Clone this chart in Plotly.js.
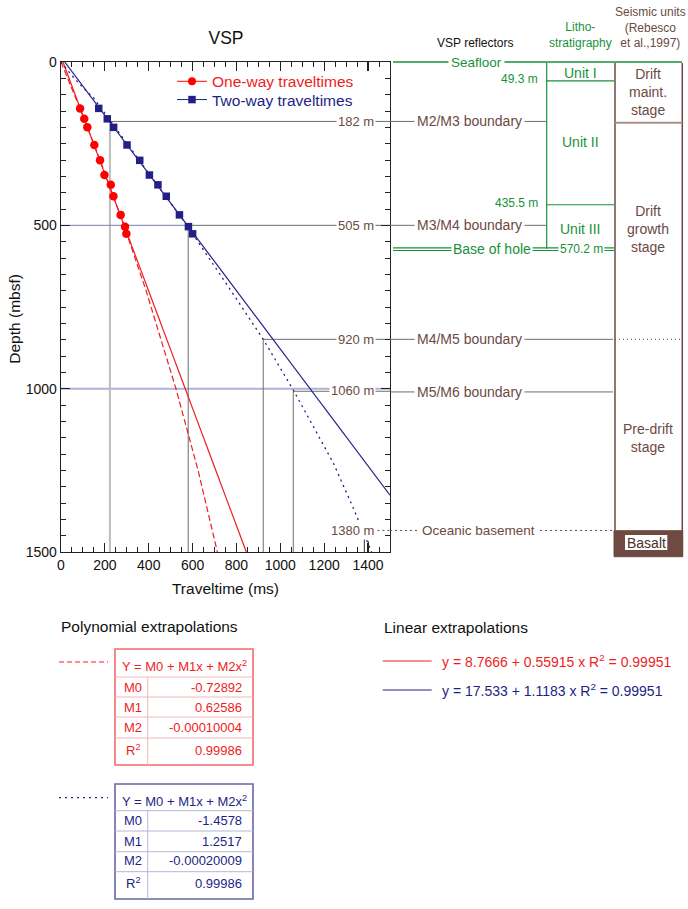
<!DOCTYPE html>
<html><head><meta charset="utf-8">
<script src="https://cdn.plot.ly/plotly-3.0.1.min.js"></script>
<style>html,body{margin:0;padding:0;background:#fff}#chart{width:688px;height:909px}</style>
</head><body><div id="chart"></div>
<script>
// ---------------- data ----------------
const oneWayTime  = [87, 106, 120, 152, 178, 198, 227, 239, 272, 292, 298];
const oneWayDepth = [142, 174, 200, 254, 301, 346, 376, 411, 468, 504, 526];
const twoWayTime  = [172, 211, 240, 301, 359, 403, 442, 480, 540, 581, 600];
const twoWayDepth = [142, 174, 200, 254, 301, 346, 376, 411, 468, 504, 526];

// linear extrapolations (end points)
const linOneTime  = [9, 845];
const linOneDepth = [0, 1500];
const linTwoTime  = [17, 1500];
const linTwoDepth = [0, 1326];

// polynomial extrapolations
const polyOneTime  = [0, 91, 178, 287, 388, 524, 625, 713];
const polyOneDepth = [0, 150, 300, 500, 700, 1000, 1250, 1500];
const polyTwoTime  = [0, 48, 92, 150, 356, 574, 783, 922, 1059, 1242, 1333, 1356, 1409, 1416];
const polyTwoDepth = [0, 40, 73, 111, 300, 500, 708, 849, 1004, 1228, 1366, 1402, 1489, 1500];

// reflector picks inside the plot
const reflLabels     = ['182 m', '505 m', '920 m', '1060 m', '1380 m'];
const reflLabelDepth = [182, 500, 849, 1006, 1434];
const reflTime       = [222, 580, 922, 1059, 1383];
const reflDepth      = [182, 500, 849, 1008, 1457];
const extraVTime = [223, 1401];
const extraVDepth = [182, 1467];

// right-hand columns
const panelRefl      = ['M2/M3 boundary', 'M3/M4 boundary', 'M4/M5 boundary', 'M5/M6 boundary', 'Oceanic basement'];
const panelReflDepth = [182, 500, 849, 1010, 1434];
const lithoUnits      = ['Unit I', 'Unit II', 'Unit III'];
const lithoUnitDepth  = [33, 244, 511];
const lithoBounds     = ['49.3 m', '435.5 m'];
const lithoBoundDepth = [58, 437];
const holeBaseLabel = '570.2 m';
const holeBaseDepth = 572;
const seismicUnits     = ['Drift<br>maint.<br>stage', 'Drift<br>growth<br>stage', 'Pre-drift<br>stage'];
const seismicUnitDepth = [91, 511, 1150];
const seismicBoundDepth = 186;

// tables
const polyRows    = ['M0', 'M1', 'M2', 'R<sup>2</sup>'];
const polyOneVals = ['-0.72892', '0.62586', '-0.00010004', '0.99986'];
const polyTwoVals = ['-1.4578', '1.2517', '-0.00020009', '0.99986'];
const polyEq  = 'Y = M0 + M1x + M2x<sup>2</sup>';
const linOneEq = 'y = 8.7666 + 0.55915 x R<sup>2</sup> = 0.99951';
const linTwoEq = 'y = 17.533 + 1.1183 x R<sup>2</sup> = 0.99951';

// ---------------- styling ----------------
const RED = '#ee1d23', NAVY = '#231f86', BROWN = '#6b4a43', GREEN = '#17923a', GRAY = '#6e6e6e';
const FONT = 'Liberation Sans, Arial, Helvetica, sans-serif';
const PL = 61, PR = 390, PT = 62, PB = 552;
const X = px => (px - PL) / (PR - PL);
const Y = py => (PB - py) / (PB - PT);

const traces = [
  {x: linOneTime, y: linOneDepth, mode: 'lines', line: {color: RED, width: 1.2}, showlegend: false, hoverinfo: 'skip'},
  {x: linTwoTime, y: linTwoDepth, mode: 'lines', line: {color: NAVY, width: 1.2}, showlegend: false, hoverinfo: 'skip'},
  {x: polyOneTime, y: polyOneDepth, mode: 'lines', line: {color: RED, width: 1.2, dash: '6px,3px'}, showlegend: false, hoverinfo: 'skip'},
  {x: polyTwoTime, y: polyTwoDepth, mode: 'lines', line: {color: NAVY, width: 1.3, dash: '2px,4px'}, showlegend: false, hoverinfo: 'skip'},
  {x: oneWayTime, y: oneWayDepth, mode: 'markers', marker: {symbol: 'circle', size: 8.5, color: 'red'}, showlegend: false},
  {x: twoWayTime, y: twoWayDepth, mode: 'markers', marker: {symbol: 'square', size: 7.5, color: NAVY}, showlegend: false},
  {x: [null], y: [null], mode: 'lines+markers', name: 'One-way traveltimes', legend: 'legend',
   line: {color: 'red', width: 1}, marker: {symbol: 'circle', size: 8, color: 'red'}},
  {x: [null], y: [null], mode: 'lines+markers', name: 'Two-way traveltimes', legend: 'legend2',
   line: {color: NAVY, width: 1}, marker: {symbol: 'square', size: 7.5, color: NAVY}}
];

const shapes = [];
const ann = [];
const L = (o) => shapes.push(Object.assign({type: 'line'}, o));
const A = (o) => ann.push(Object.assign({showarrow: false, xanchor: 'center', yanchor: 'middle',
  font: {family: FONT, size: 14, color: BROWN}}, o));

// ---- inside plot ----
L({xref: 'x', yref: 'y', x0: 0, x1: 1500, y0: 1000, y1: 1000, line: {color: '#b0b2d8', width: 2}, layer: 'below'});
L({xref: 'x', yref: 'y', x0: extraVTime[0], x1: extraVTime[0], y0: extraVDepth[0], y1: 1500, line: {color: '#bdbdbd', width: 2}, layer: 'below'});
L({xref: 'x', yref: 'y', x0: 0, x1: reflTime[1], y0: reflDepth[1], y1: reflDepth[1], line: {color: '#7d7db8', width: 1}, layer: 'below'});
for (let i = 0; i < 4; i++) {
  L({xref: 'x', yref: 'y', x0: reflTime[i], x1: 1500, y0: reflDepth[i], y1: reflDepth[i], line: {color: GRAY, width: 1}, layer: 'below'});
  if (i > 0) L({xref: 'x', yref: 'y', x0: reflTime[i], x1: reflTime[i], y0: reflDepth[i], y1: 1500, line: {color: GRAY, width: 1}, layer: 'below'});
}
L({xref: 'x', yref: 'y', x0: reflTime[4], x1: reflTime[4], y0: reflDepth[4], y1: 1500, line: {color: '#333', width: 1}, layer: 'below'});
L({xref: 'x', yref: 'y', x0: extraVTime[1], x1: extraVTime[1], y0: extraVDepth[1], y1: 1500, line: {color: '#111', width: 1}, layer: 'below'});
L({xref: 'x', yref: 'y', x0: 1420, x1: 1500, y0: reflLabelDepth[4], y1: reflLabelDepth[4], line: {color: '#555', width: 1, dash: '2px,3px'}, layer: 'below'});
reflLabels.forEach((t, i) => A({xref: 'x', yref: 'y', x: 1436, xanchor: 'right', y: reflLabelDepth[i], text: t,
  bgcolor: 'white', borderpad: 1, font: {family: FONT, size: 13, color: BROWN}}));

// ---- right panel ----
[0, 1].forEach(i => L({xref: 'paper', yref: 'y', x0: 1, x1: X(546), y0: panelReflDepth[i], y1: panelReflDepth[i], line: {color: GRAY, width: 1}}));
[2, 3].forEach(i => L({xref: 'paper', yref: 'y', x0: 1, x1: X(613), y0: panelReflDepth[i], y1: panelReflDepth[i], line: {color: GRAY, width: 1}}));
L({xref: 'paper', yref: 'y', x0: 1, x1: X(613), y0: panelReflDepth[4], y1: panelReflDepth[4], line: {color: '#555', width: 1, dash: '2px,3px'}});
L({xref: 'paper', yref: 'y', x0: X(615), x1: X(682), y0: panelReflDepth[2], y1: panelReflDepth[2], line: {color: '#555', width: 1, dash: '1px,3px'}});
panelRefl.forEach((t, i) => A({xref: 'paper', yref: 'y', x: X(i === 4 ? 479 : 469.3), y: panelReflDepth[i], text: t,
  bgcolor: 'white', borderpad: 2, font: {family: FONT, size: i === 4 ? 13.5 : 14, color: BROWN}}));

// seafloor
L({xref: 'paper', yref: 'paper', x0: X(393), x1: X(682), y0: 1, y1: 1, line: {color: GREEN, width: 1.3}});
A({xref: 'paper', yref: 'paper', x: X(476.7), y: 1, text: 'Seafloor', bgcolor: 'white', borderpad: 2,
   font: {family: FONT, size: 13.5, color: GREEN}});
// lithostratigraphy column
L({xref: 'paper', yref: 'y', x0: X(546.7), x1: X(546.7), y0: 2, y1: holeBaseDepth, line: {color: GREEN, width: 1.2}});
lithoBoundDepth.forEach((d, i) => {
  L({xref: 'paper', yref: 'y', x0: X(546.7), x1: X(614), y0: d, y1: d, line: {color: GREEN, width: 1.2}});
  A({xref: 'paper', yref: 'y', x: X(540), xanchor: 'right', y: d - 5, text: lithoBounds[i], font: {family: FONT, size: 12, color: GREEN}});
});
lithoUnits.forEach((t, i) => A({xref: 'paper', yref: 'y', x: X(580), y: lithoUnitDepth[i], text: t, font: {family: FONT, size: 14, color: GREEN}}));
[holeBaseDepth - 3, holeBaseDepth + 5].forEach(d =>
  L({xref: 'paper', yref: 'y', x0: X(393), x1: X(614), y0: d, y1: d, line: {color: GREEN, width: 1.2}}));
A({xref: 'paper', yref: 'y', x: X(491.7), y: holeBaseDepth + 1, text: 'Base of hole', bgcolor: 'white', borderpad: 1,
   font: {family: FONT, size: 14, color: GREEN}});
A({xref: 'paper', yref: 'y', x: X(581.7), y: holeBaseDepth + 1, text: holeBaseLabel, bgcolor: 'white', borderpad: 1,
   font: {family: FONT, size: 12, color: GREEN}});
// seismic units column
L({xref: 'paper', yref: 'paper', x0: X(615), x1: X(615), y0: Y(63), y1: Y(556.7), line: {color: BROWN, width: 1.5}});
L({xref: 'paper', yref: 'paper', x0: X(682.3), x1: X(682.3), y0: Y(63), y1: Y(556.7), line: {color: BROWN, width: 1.5}});
L({xref: 'paper', yref: 'y', x0: X(615), x1: X(682.3), y0: seismicBoundDepth, y1: seismicBoundDepth, line: {color: '#a8908a', width: 2}});
seismicUnits.forEach((t, i) => A({xref: 'paper', yref: 'y', x: X(647.5), y: seismicUnitDepth[i], text: t, font: {family: FONT, size: 14, color: BROWN}}));
shapes.push({type: 'rect', xref: 'paper', yref: 'paper', x0: X(614), x1: X(682.7), y0: Y(530.7), y1: Y(556.7),
  fillcolor: '#6e4a42', line: {color: '#6e4a42', width: 1}});
shapes.push({type: 'rect', xref: 'paper', yref: 'paper', x0: X(625), x1: X(667.3), y0: Y(535), y1: Y(550),
  fillcolor: 'white', line: {width: 0}});
A({xref: 'paper', yref: 'paper', x: X(646.2), y: Y(542.5), text: 'Basalt', font: {family: FONT, size: 14, color: '#4a302a'}});

// headers
A({xref: 'paper', yref: 'paper', x: X(474.5), y: Y(42.7), text: 'VSP reflectors', font: {family: FONT, size: 12, color: '#111'}});
A({xref: 'paper', yref: 'paper', x: X(580), y: Y(34.5), text: 'Litho-<br>stratigraphy', font: {family: FONT, size: 12, color: GREEN}});
A({xref: 'paper', yref: 'paper', x: X(650.8), y: Y(27.2), text: 'Seismic units<br>(Rebesco<br>et al.,1997)', font: {family: FONT, size: 12, color: BROWN}});

// y axis title
A({xref: 'paper', yref: 'paper', x: X(13.7), y: Y(319), text: 'Depth (mbsf)', textangle: -90, font: {family: FONT, size: 15.5, color: '#111'}});

// ---- bottom: extrapolation legends/tables ----
A({xref: 'paper', yref: 'paper', x: X(59), xanchor: 'left', y: Y(626), text: 'Polynomial extrapolations', font: {family: FONT, size: 15.5, color: '#111'}});
A({xref: 'paper', yref: 'paper', x: X(381.7), xanchor: 'left', y: Y(627), text: 'Linear extrapolations', font: {family: FONT, size: 15.5, color: '#111'}});

function table(top, rowLines, bottom, headerY, rowY, vals, color, outline, inner, sampleY, dash) {
  L({xref: 'paper', yref: 'paper', x0: X(59), x1: X(108), y0: Y(sampleY), y1: Y(sampleY), line: {color: color, width: 1.2, dash: dash}});
  shapes.push({type: 'rect', xref: 'paper', yref: 'paper', x0: X(115), x1: X(253), y0: Y(top), y1: Y(bottom), line: {color: outline, width: 1.6}});
  rowLines.forEach(py => L({xref: 'paper', yref: 'paper', x0: X(115), x1: X(253), y0: Y(py), y1: Y(py), line: {color: inner, width: 1}}));
  L({xref: 'paper', yref: 'paper', x0: X(147.7), x1: X(147.7), y0: Y(rowLines[0]), y1: Y(bottom), line: {color: inner, width: 1}});
  A({xref: 'paper', yref: 'paper', x: X(184), y: Y(headerY), text: polyEq, font: {family: FONT, size: 13, color: color}});
  polyRows.forEach((r, i) => {
    A({xref: 'paper', yref: 'paper', x: X(133.3), y: Y(rowY[i]), text: r, font: {family: FONT, size: 13, color: color}});
    A({xref: 'paper', yref: 'paper', x: X(244), xanchor: 'right', y: Y(rowY[i]), text: vals[i], font: {family: FONT, size: 13, color: color}});
  });
}
table(649, [677, 697, 717, 738], 765, 666, [687.3, 707.3, 727.3, 750], polyOneVals, RED, '#f36b6b', '#f6b6b6', 662, '5px,3px');
table(784, [810.7, 831, 851.7, 871.7], 899, 801, [820.7, 841, 860.7, 883.3], polyTwoVals, NAVY, '#6b64a8', '#b8b5d8', 797.7, '2px,4px');

L({xref: 'paper', yref: 'paper', x0: X(382.7), x1: X(431.7), y0: Y(661), y1: Y(661), line: {color: RED, width: 1}});
L({xref: 'paper', yref: 'paper', x0: X(382.7), x1: X(431.7), y0: Y(690), y1: Y(690), line: {color: NAVY, width: 1}});
A({xref: 'paper', yref: 'paper', x: X(440), xanchor: 'left', y: Y(661), text: linOneEq, font: {family: FONT, size: 14, color: RED}});
A({xref: 'paper', yref: 'paper', x: X(440), xanchor: 'left', y: Y(690), text: linTwoEq, font: {family: FONT, size: 14, color: NAVY}});

const axisCommon = {
  showline: true, linecolor: '#222', linewidth: 1.3, mirror: 'allticks',
  ticks: 'inside', ticklen: 9, tickwidth: 1.2, tickcolor: '#222',
  showgrid: false, zeroline: false, automargin: false,
  tickfont: {family: FONT, size: 14, color: '#111'},
  minor: {ticks: 'inside', ticklen: 5, tickwidth: 1, tickcolor: '#222', showgrid: false}
};

const legendCommon = {xanchor: 'left', yanchor: 'middle', bgcolor: 'rgba(0,0,0,0)', borderwidth: 0};

const layout = {
  width: 688, height: 909,
  margin: {l: PL, r: 688 - PR, t: PT, b: 909 - PB, pad: 0},
  paper_bgcolor: 'white', plot_bgcolor: 'white',
  font: {family: FONT, color: '#111'},
  title: {text: 'VSP', font: {family: FONT, size: 17.5, color: '#111'}, xref: 'container', yref: 'container',
          x: 226 / 688, y: 1 - 38 / 909, xanchor: 'center', yanchor: 'middle'},
  xaxis: Object.assign({}, axisCommon, {range: [0, 1500], tick0: 0, dtick: 200,
          minor: Object.assign({}, axisCommon.minor, {dtick: 50}),
          title: {text: 'Traveltime (ms)', font: {family: FONT, size: 15.5, color: '#111'}, standoff: 11}}),
  yaxis: Object.assign({}, axisCommon, {range: [1500, 0], tick0: 0, dtick: 500,
          minor: Object.assign({}, axisCommon.minor, {dtick: 50})}),
  showlegend: true,
  legend: Object.assign({}, legendCommon, {x: X(172), y: Y(81.7), font: {family: 'Arial', size: 15.5, color: RED}}),
  legend2: Object.assign({}, legendCommon, {x: X(172), y: Y(100), font: {family: 'Arial', size: 15.5, color: NAVY}}),
  shapes: shapes,
  annotations: ann
};

Plotly.newPlot('chart', traces, layout, {staticPlot: true, displayModeBar: false});
</script>
</body></html>
